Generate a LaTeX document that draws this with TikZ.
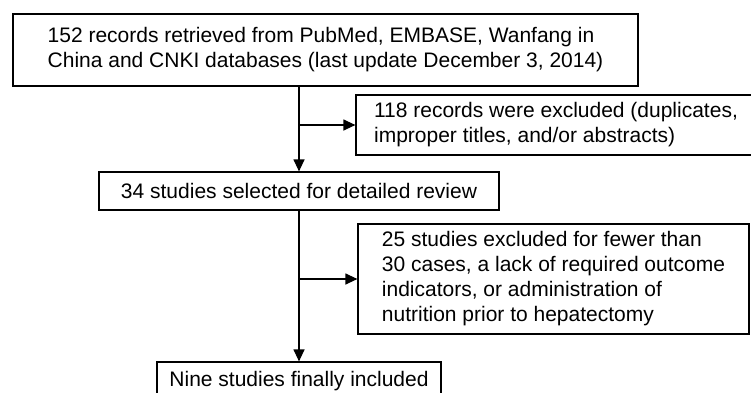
\documentclass[tikz,border=0pt]{standalone}
\usepackage{fontspec}
\setmainfont{Liberation Sans}
\usetikzlibrary{arrows.meta,positioning}

\tikzset{rbox/.style={draw,line width=1.2pt,align=left,inner sep=0pt,font=\fontsize{21}{25}\selectfont},
  flow/.style={line width=1.2pt,-{Triangle[length=12pt,width=11pt]}}}

\begin{document}
\begin{tikzpicture}[x=1pt,y=-1pt]
\useasboundingbox (0,0) rectangle (751,392);
\begin{scope}
\clip (0,0) rectangle (751,392);
\node[rbox,minimum width=625,minimum height=72] (rec) at (325.5,50) {152 records retrieved from PubMed, EMBASE, Wanfang in\\China and CNKI databases (last update December 3, 2014)};
\node[rbox,minimum width=400,minimum height=60] (excl1) at (556,125) {118 records were excluded (duplicates,\\improper titles, and/or abstracts)};
\node[rbox,minimum width=400,minimum height=38] (sel) at (299,191) {34 studies selected for detailed review};
\node[rbox,minimum width=391,minimum height=110] (excl2) at (553.5,279) {25 studies excluded for fewer than\\30 cases, a lack of required outcome\\indicators, or administration of\\nutrition prior to hepatectomy};
\node[rbox,minimum width=284,minimum height=38] (incl) at (299,381) {Nine studies finally included};
\end{scope}
\coordinate (br1) at (sel.north |- excl1.west);
\coordinate (br2) at (sel.south |- excl2.west);
\draw[flow] (sel.north |- rec.south) -- (sel.north);
\draw[flow] (br1) -- (excl1.west);
\draw[flow] (sel.south) -- (incl.north);
\draw[flow] (br2) -- (excl2.west);
\end{tikzpicture}
\end{document}
